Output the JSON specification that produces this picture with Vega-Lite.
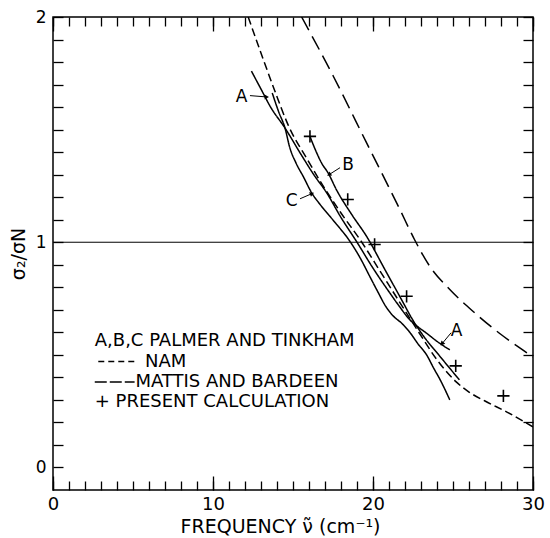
{
  "$schema": "https://vega.github.io/schema/vega-lite/v6.json",
  "width": 480,
  "height": 473,
  "autosize": "none",
  "padding": {"left": 53, "top": 17, "right": 17, "bottom": 48},
  "background": "white",
  "config": {
    "view": {"stroke": "black", "strokeWidth": 1.5},
    "font": "DejaVu Sans",
    "axis": {"grid": false, "domain": false, "labelColor": "black", "titleColor": "black", "tickColor": "black", "tickWidth": 1.3, "labelFont": "DejaVu Sans", "titleFont": "DejaVu Sans", "titleFontWeight": "normal", "labelFlush": false, "labelOverlap": false}
  },
  "datasets": {
    "curves": [
      {"series": "A", "x": 12.4, "y": 1.76},
      {"series": "A", "x": 13.0, "y": 1.68},
      {"series": "A", "x": 13.6, "y": 1.6},
      {"series": "A", "x": 14.5, "y": 1.507},
      {"series": "A", "x": 15.5, "y": 1.39},
      {"series": "A", "x": 16.3, "y": 1.3},
      {"series": "A", "x": 17.1, "y": 1.22},
      {"series": "A", "x": 18.0, "y": 1.11},
      {"series": "A", "x": 19.0, "y": 1.0},
      {"series": "A", "x": 20.0, "y": 0.885},
      {"series": "A", "x": 21.0, "y": 0.78},
      {"series": "A", "x": 21.6, "y": 0.72},
      {"series": "A", "x": 22.3, "y": 0.656},
      {"series": "A", "x": 22.8, "y": 0.625},
      {"series": "A", "x": 23.35, "y": 0.596},
      {"series": "A", "x": 24.0, "y": 0.56},
      {"series": "A", "x": 24.8, "y": 0.522},
      {"series": "B", "x": 16.06, "y": 1.47},
      {"series": "B", "x": 16.4, "y": 1.41},
      {"series": "B", "x": 16.8, "y": 1.35},
      {"series": "B", "x": 17.2, "y": 1.307},
      {"series": "B", "x": 17.7, "y": 1.235},
      {"series": "B", "x": 18.7, "y": 1.12},
      {"series": "B", "x": 19.6, "y": 1.026},
      {"series": "B", "x": 20.75, "y": 0.878},
      {"series": "B", "x": 21.9, "y": 0.73},
      {"series": "B", "x": 22.4, "y": 0.665},
      {"series": "B", "x": 23.1, "y": 0.589},
      {"series": "B", "x": 24.2, "y": 0.492},
      {"series": "B", "x": 25.4, "y": 0.389},
      {"series": "C", "x": 13.7, "y": 1.663},
      {"series": "C", "x": 14.1, "y": 1.58},
      {"series": "C", "x": 14.5, "y": 1.507},
      {"series": "C", "x": 14.8, "y": 1.42},
      {"series": "C", "x": 15.2, "y": 1.35},
      {"series": "C", "x": 15.64, "y": 1.292},
      {"series": "C", "x": 16.17, "y": 1.219},
      {"series": "C", "x": 16.7, "y": 1.167},
      {"series": "C", "x": 17.6, "y": 1.09},
      {"series": "C", "x": 18.5, "y": 1.01},
      {"series": "C", "x": 19.2, "y": 0.93},
      {"series": "C", "x": 19.8, "y": 0.848},
      {"series": "C", "x": 20.3, "y": 0.78},
      {"series": "C", "x": 20.8, "y": 0.715},
      {"series": "C", "x": 21.3, "y": 0.67},
      {"series": "C", "x": 21.8, "y": 0.64},
      {"series": "C", "x": 22.3, "y": 0.6},
      {"series": "C", "x": 22.8, "y": 0.55},
      {"series": "C", "x": 23.35, "y": 0.5},
      {"series": "C", "x": 23.8, "y": 0.44},
      {"series": "C", "x": 24.2, "y": 0.389},
      {"series": "C", "x": 24.8, "y": 0.3},
      {"series": "NAM", "x": 12.2, "y": 2.0},
      {"series": "NAM", "x": 13.15, "y": 1.81},
      {"series": "NAM", "x": 13.9, "y": 1.665},
      {"series": "NAM", "x": 14.7, "y": 1.52},
      {"series": "NAM", "x": 15.9, "y": 1.367},
      {"series": "NAM", "x": 16.9, "y": 1.248},
      {"series": "NAM", "x": 18.0, "y": 1.13},
      {"series": "NAM", "x": 19.3, "y": 1.0},
      {"series": "NAM", "x": 20.5, "y": 0.865},
      {"series": "NAM", "x": 21.7, "y": 0.73},
      {"series": "NAM", "x": 22.9, "y": 0.596},
      {"series": "NAM", "x": 24.0, "y": 0.478},
      {"series": "NAM", "x": 25.2, "y": 0.38},
      {"series": "NAM", "x": 26.0, "y": 0.335},
      {"series": "NAM", "x": 27.0, "y": 0.295},
      {"series": "NAM", "x": 28.4, "y": 0.245},
      {"series": "NAM", "x": 30.0, "y": 0.18},
      {"series": "MB", "x": 15.54, "y": 2.0},
      {"series": "MB", "x": 17.52, "y": 1.737},
      {"series": "MB", "x": 19.6, "y": 1.441},
      {"series": "MB", "x": 21.69, "y": 1.144},
      {"series": "MB", "x": 22.6, "y": 1.011},
      {"series": "MB", "x": 23.56, "y": 0.892},
      {"series": "MB", "x": 24.8, "y": 0.79},
      {"series": "MB", "x": 26.3, "y": 0.69},
      {"series": "MB", "x": 27.9, "y": 0.596},
      {"series": "MB", "x": 29.4, "y": 0.52},
      {"series": "MB", "x": 30.0, "y": 0.49}
    ],
    "present": [
      {"x": 16.06, "y": 1.47},
      {"x": 18.42, "y": 1.19},
      {"x": 20.1, "y": 0.99},
      {"x": 22.1, "y": 0.76},
      {"x": 25.17, "y": 0.451},
      {"x": 28.15, "y": 0.318}
    ],
    "labels": [
      {"label": "A", "x": 11.79, "y": 1.643},
      {"label": "B", "x": 18.44, "y": 1.341},
      {"label": "C", "x": 14.92, "y": 1.181},
      {"label": "A", "x": 25.23, "y": 0.604}
    ],
    "legend": [
      {"label": "A,B,C PALMER AND TINKHAM", "x": 2.61, "y": 0.56},
      {"label": "NAM", "x": 5.75, "y": 0.47},
      {"label": "MATTIS AND BARDEEN", "x": 5.15, "y": 0.38},
      {"label": "+ PRESENT CALCULATION", "x": 2.61, "y": 0.29}
    ],
    "arrows": [
      {"x": 12.31, "y": 1.651, "x2": 13.36, "y2": 1.645},
      {"x": 17.94, "y": 1.331, "x2": 17.25, "y2": 1.3},
      {"x": 15.44, "y": 1.193, "x2": 16.19, "y2": 1.216},
      {"x": 24.88, "y": 0.598, "x2": 24.31, "y2": 0.549}
    ]
  },
  "resolve": {"axis": {"x": "independent", "y": "independent"}},
  "layer": [
    {
      "data": {"values": [{"y": 1}]},
      "mark": {"type": "rule", "color": "black", "strokeWidth": 1},
      "encoding": {
        "y": {"field": "y", "type": "quantitative", "scale": {"domain": [-0.1, 2], "nice": false, "zero": false}, "axis": null}
      }
    },
    {
      "data": {"name": "curves"},
      "mark": {"type": "line", "color": "black", "strokeWidth": 1.5, "interpolate": "monotone", "clip": true},
      "encoding": {
        "x": {"field": "x", "type": "quantitative", "scale": {"domain": [0, 30], "nice": false, "zero": false},
          "axis": {"orient": "bottom", "values": [0, 10, 20, 30], "ticks": false, "labelPadding": 5, "labelFontSize": 18, "labelOverlap": false, "title": "FREQUENCY ν̃ (cm⁻¹)", "titleFontSize": 19, "titlePadding": 4, "titleX": 227}},
        "y": {"field": "y", "type": "quantitative", "scale": {"domain": [-0.1, 2], "nice": false, "zero": false},
          "axis": {"orient": "left", "values": [0, 1, 2], "labelExpr": "datum.value == 0 ? '0' : (datum.value == 1 ? '1' : '2')", "ticks": false, "labelPadding": 7, "labelFontSize": 17, "labelOverlap": false, "labelSeparation": 0, "labelBound": false, "title": "σ₂/σN", "titleFontSize": 19, "titlePadding": 7}},
        "strokeDash": {"field": "series", "type": "nominal", "scale": {"domain": ["A", "B", "C", "NAM", "MB"], "range": [[1, 0], [1, 0], [1, 0], [8, 4], [15, 7]]}, "legend": null},
        "detail": {"field": "series"}
      }
    },
    {
      "data": {"name": "present"},
      "mark": {"type": "point", "shape": "M-1,0L1,0M0,-1L0,1", "size": 150, "strokeWidth": 1.6, "color": "black", "filled": false, "opacity": 1},
      "encoding": {
        "x": {"field": "x", "type": "quantitative", "scale": {"domain": [0, 30], "nice": false, "zero": false},
          "axis": {"orient": "bottom", "values": [0,1,2,3,4,5,6,7,8,9,10,11,12,13,14,15,16,17,18,19,20,21,22,23,24,25,26,27,28,29,30], "labels": false, "tickSize": -9, "title": null}},
        "y": {"field": "y", "type": "quantitative", "scale": {"domain": [-0.1, 2], "nice": false, "zero": false},
          "axis": {"orient": "left", "values": [0,0.1,0.2,0.3,0.4,0.5,0.6,0.7,0.8,0.9,1,1.1,1.2,1.3,1.4,1.5,1.6,1.7,1.8,1.9,2], "labels": false, "tickSize": -10, "title": null}}
      }
    },
    {
      "data": {"name": "labels"},
      "mark": {"type": "text", "fontSize": 17, "font": "DejaVu Sans", "color": "black", "align": "center", "baseline": "middle"},
      "encoding": {
        "x": {"field": "x", "type": "quantitative", "scale": {"domain": [0, 30], "nice": false, "zero": false},
          "axis": {"orient": "bottom", "values": [0, 10, 20, 30], "labels": false, "tickSize": -14, "title": null}},
        "y": {"field": "y", "type": "quantitative", "scale": {"domain": [-0.1, 2], "nice": false, "zero": false},
          "axis": {"orient": "right", "values": [0,0.1,0.2,0.3,0.4,0.5,0.6,0.7,0.8,0.9,1,1.1,1.2,1.3,1.4,1.5,1.6,1.7,1.8,1.9,2], "labels": false, "tickSize": -10, "title": null}},
        "text": {"field": "label"}
      }
    },
    {
      "data": {"name": "legend"},
      "mark": {"type": "text", "fontSize": 18, "font": "DejaVu Sans", "color": "black", "align": "left", "baseline": "middle"},
      "encoding": {
        "x": {"field": "x", "type": "quantitative", "scale": {"domain": [0, 30], "nice": false, "zero": false},
          "axis": {"orient": "top", "values": [0,1,2,3,4,5,6,7,8,9,10,11,12,13,14,15,16,17,18,19,20,21,22,23,24,25,26,27,28,29,30], "labels": false, "tickSize": -9, "title": null}},
        "y": {"field": "y", "type": "quantitative", "scale": {"domain": [-0.1, 2], "nice": false, "zero": false}, "axis": null},
        "text": {"field": "label"}
      }
    },
    {
      "data": {"name": "arrows"},
      "mark": {"type": "rule", "color": "black", "strokeWidth": 1},
      "encoding": {
        "x": {"field": "x", "type": "quantitative", "scale": {"domain": [0, 30], "nice": false, "zero": false},
          "axis": {"orient": "top", "values": [0, 10, 20, 30], "labels": false, "tickSize": -14, "title": null}},
        "y": {"field": "y", "type": "quantitative", "scale": {"domain": [-0.1, 2], "nice": false, "zero": false}, "axis": null},
        "x2": {"field": "x2"},
        "y2": {"field": "y2"}
      }
    },
    {
      "data": {"values": [{"x": 2.83, "x2": 5.2, "y": 0.47}]},
      "mark": {"type": "rule", "color": "black", "strokeWidth": 1.5, "strokeDash": [6, 4]},
      "encoding": {
        "x": {"field": "x", "type": "quantitative", "scale": {"domain": [0, 30], "nice": false, "zero": false}, "axis": null},
        "x2": {"field": "x2"},
        "y": {"field": "y", "type": "quantitative", "scale": {"domain": [-0.1, 2], "nice": false, "zero": false}, "axis": null}
      }
    },
    {
      "data": {"values": [{"x": 2.61, "x2": 5.1, "y": 0.38}]},
      "mark": {"type": "rule", "color": "black", "strokeWidth": 1.5, "strokeDash": [12, 3]},
      "encoding": {
        "x": {"field": "x", "type": "quantitative", "scale": {"domain": [0, 30], "nice": false, "zero": false}, "axis": null},
        "x2": {"field": "x2"},
        "y": {"field": "y", "type": "quantitative", "scale": {"domain": [-0.1, 2], "nice": false, "zero": false}, "axis": null}
      }
    },
    {
      "data": {"values": [{"x": 13.36, "y": 1.645}]},
      "mark": {"type": "point", "shape": "triangle-right", "size": 25, "filled": true, "color": "black", "opacity": 1, "angle": 0},
      "encoding": {
        "x": {"field": "x", "type": "quantitative", "scale": {"domain": [0, 30], "nice": false, "zero": false}, "axis": null},
        "y": {"field": "y", "type": "quantitative", "scale": {"domain": [-0.1, 2], "nice": false, "zero": false}, "axis": null}
      }
    },
    {
      "data": {"values": [{"x": 17.25, "y": 1.3}]},
      "mark": {"type": "point", "shape": "triangle-right", "size": 25, "filled": true, "color": "black", "opacity": 1, "angle": 147},
      "encoding": {
        "x": {"field": "x", "type": "quantitative", "scale": {"domain": [0, 30], "nice": false, "zero": false}, "axis": null},
        "y": {"field": "y", "type": "quantitative", "scale": {"domain": [-0.1, 2], "nice": false, "zero": false}, "axis": null}
      }
    },
    {
      "data": {"values": [{"x": 16.19, "y": 1.216}]},
      "mark": {"type": "point", "shape": "triangle-right", "size": 25, "filled": true, "color": "black", "opacity": 1, "angle": 337},
      "encoding": {
        "x": {"field": "x", "type": "quantitative", "scale": {"domain": [0, 30], "nice": false, "zero": false}, "axis": null},
        "y": {"field": "y", "type": "quantitative", "scale": {"domain": [-0.1, 2], "nice": false, "zero": false}, "axis": null}
      }
    },
    {
      "data": {"values": [{"x": 24.31, "y": 0.549}]},
      "mark": {"type": "point", "shape": "triangle-right", "size": 25, "filled": true, "color": "black", "opacity": 1, "angle": 129},
      "encoding": {
        "x": {"field": "x", "type": "quantitative", "scale": {"domain": [0, 30], "nice": false, "zero": false}, "axis": null},
        "y": {"field": "y", "type": "quantitative", "scale": {"domain": [-0.1, 2], "nice": false, "zero": false}, "axis": null}
      }
    }
  ]
}
